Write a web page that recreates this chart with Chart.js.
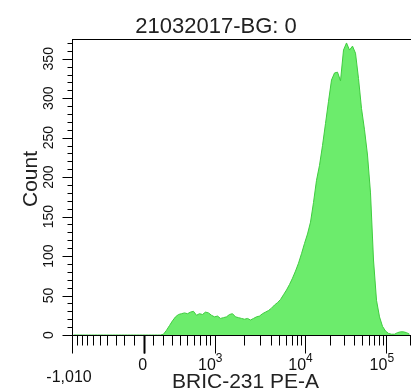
<!DOCTYPE html>
<html>
<head>
<meta charset="utf-8">
<script src="https://cdn.jsdelivr.net/npm/chart.js@4.4.1/dist/chart.umd.min.js"></script>
<style>
  html, body { margin: 0; padding: 0; background: #fff; overflow: hidden; }
  canvas { display: block; }
</style>
</head>
<body>
<canvas id="histo" width="411" height="391"></canvas>
<script>
const title = '21032017-BG: 0';
const xTitle = 'BRIC-231 PE-A';
const yTitle = 'Count';

// counts per bin, bins are equal width across the displayed biex range
const counts = [
  0, 0, 0, 0, 0, 0, 0, 0, 0, 0,
  0, 0, 0, 0, 0, 0, 0, 0, 0, 0,
  0, 0, 0, 0, 0, 0, 0, 0, 0, 0,
  1, 6, 12, 18, 23, 26, 27, 28, 27, 29,
  30, 25, 27, 26, 29, 28, 25, 23, 24, 21,
  22, 23, 26, 27, 23, 22, 21, 20, 21, 19,
  21, 23, 24, 27, 29, 31, 34, 38, 41, 45,
  51, 57, 64, 72, 81, 91, 103, 116, 128, 143,
  168, 196, 215, 240, 268, 296, 323, 332, 333, 322,
  361, 370, 361, 366, 357, 325, 287, 260, 228, 180,
  95, 44, 23, 11, 5, 2, 1, 1, 3, 4,
  4, 3, 1
];
const xRange = [-0.9, 3.36];   // display units, decades away from zero

const yMax = 375;
const yMajor = [0, 50, 100, 150, 200, 250, 300, 350];
const yMinor = [10, 20, 30, 40, 60, 70, 80, 90, 110, 120, 130, 140, 160, 170, 180, 190,
  210, 220, 230, 240, 260, 270, 280, 290, 310, 320, 330, 340, 360, 370];

const xMajor = [-1010, 0, 1e3, 1e4, 1e5];
const xMajorBase = ['-1,010', '0', '10', '10', '10'];
const xMajorExp = ['', '', '3', '4', '5'];
const xMinor = [
  -1000, -900, -800, -700, -600, -500, -400, -300, -200, -100,
  100, 200, 300, 400, 500, 600, 700, 800, 900,
  2e3, 3e3, 4e3, 5e3, 6e3, 7e3, 8e3, 9e3,
  2e4, 3e4, 4e4, 5e4, 6e4, 7e4, 8e4, 9e4, 2e5
];

// biex (logicle like) transform
const P = 3, K = 88.4;
const biexValue = u => K * (Math.pow(10, u) - P * P * Math.pow(10, -u / P) + P * P - 1);
function toDisplay(v) {
  const a = Math.abs(v);
  let lo = 0, hi = 7;
  for (let i = 0; i < 60; i++) {
    const mid = (lo + hi) / 2;
    if (biexValue(mid) < a) lo = mid; else hi = mid;
  }
  return Math.sign(v) * lo;
}

const binW = (xRange[1] - xRange[0]) / counts.length;
const points = counts.map((c, i) => ({ x: xRange[0] + (i + 0.5) * binW, y: c }));

const FONT = 'Arial, "Liberation Sans", sans-serif';

const axesPlugin = {
  id: 'flowAxes',
  afterDraw(chart) {
    const { ctx, chartArea: area } = chart;
    const xs = chart.scales.x, ys = chart.scales.y;
    const left = Math.round(area.left) + 0.5;
    const bottom = Math.round(area.bottom) + 0.5;
    ctx.save();
    ctx.strokeStyle = '#000';
    ctx.fillStyle = '#111';
    ctx.lineWidth = 1;

    // frame: top, left, bottom
    ctx.beginPath();
    ctx.moveTo(left, Math.round(area.top) + 0.5);
    ctx.lineTo(area.right, Math.round(area.top) + 0.5);
    ctx.moveTo(left, area.top);
    ctx.lineTo(left, bottom + 18);
    ctx.moveTo(left, bottom);
    ctx.lineTo(area.right, bottom);
    ctx.stroke();

    // y ticks
    ctx.beginPath();
    yMajor.forEach(v => {
      const y = Math.round(ys.getPixelForValue(v)) + 0.5;
      ctx.moveTo(left - 10, y); ctx.lineTo(left, y);
    });
    yMinor.forEach(v => {
      const y = Math.round(ys.getPixelForValue(v)) + 0.5;
      ctx.moveTo(left - 5, y); ctx.lineTo(left, y);
    });
    // x ticks
    xMajor.forEach((v, i) => {
      if (i === 0) return;
      const x = Math.round(xs.getPixelForValue(toDisplay(v))) + 0.5;
      ctx.moveTo(x, bottom); ctx.lineTo(x, bottom + 18);
    });
    xMinor.forEach(v => {
      const x = Math.round(xs.getPixelForValue(toDisplay(v))) + 0.5;
      if (x < left + 1 || x > area.right) return;
      ctx.moveTo(x, bottom); ctx.lineTo(x, bottom + 10);
    });
    ctx.stroke();
    // zero tick drawn heavier
    const x0 = Math.round(xs.getPixelForValue(0)) + 0.5;
    ctx.lineWidth = 2;
    ctx.beginPath();
    ctx.moveTo(x0, bottom); ctx.lineTo(x0, bottom + 18);
    ctx.stroke();

    // y labels, rotated
    ctx.font = '14px ' + FONT;
    ctx.textAlign = 'center';
    ctx.textBaseline = 'middle';
    yMajor.forEach(v => {
      const y = ys.getPixelForValue(v);
      ctx.save();
      ctx.translate(49, y);
      ctx.rotate(-Math.PI / 2);
      ctx.fillText(String(v), 0, 0);
      ctx.restore();
    });

    // x labels
    ctx.textBaseline = 'alphabetic';
    xMajor.forEach((v, i) => {
      const x = xs.getPixelForValue(toDisplay(v));
      if (xMajorExp[i]) {
        ctx.font = '16px ' + FONT;
        ctx.textAlign = 'right';
        ctx.fillText(xMajorBase[i], x + 1, 370);
        ctx.font = '12px ' + FONT;
        ctx.textAlign = 'left';
        ctx.fillText(xMajorExp[i], x + 1, 362);
      } else {
        ctx.font = '16px ' + FONT;
        ctx.textAlign = 'center';
        ctx.fillText(xMajorBase[i], i === 0 ? x - 3 : x - 1, i === 0 ? 382 : 370);
      }
    });

    // titles
    ctx.fillStyle = '#222';
    ctx.font = '21px ' + FONT;
    ctx.textAlign = 'center';
    ctx.fillText(xTitle, (area.left + area.right) / 2 + 4, 388);
    ctx.font = '22px ' + FONT;
    ctx.fillText(title, 216, 33);
    ctx.save();
    ctx.translate(37, 179);
    ctx.rotate(-Math.PI / 2);
    ctx.font = '21px ' + FONT;
    ctx.fillText(yTitle, 0, 0);
    ctx.restore();

    ctx.restore();
  }
};

new Chart(document.getElementById('histo').getContext('2d'), {
  type: 'line',
  data: {
    datasets: [{
      data: points,
      borderColor: '#3fcc3f',
      backgroundColor: '#6cec6c',
      borderWidth: 1,
      fill: 'origin',
      pointRadius: 0,
      tension: 0
    }]
  },
  options: {
    responsive: false,
    animation: false,
    layout: { padding: { left: 72, top: 39, right: 0, bottom: 56 } },
    plugins: {
      legend: { display: false },
      tooltip: { enabled: false }
    },
    scales: {
      x: { type: 'linear', min: xRange[0], max: xRange[1], display: false },
      y: { min: 0, max: yMax, display: false }
    }
  },
  plugins: [axesPlugin]
});
</script>
</body>
</html>
